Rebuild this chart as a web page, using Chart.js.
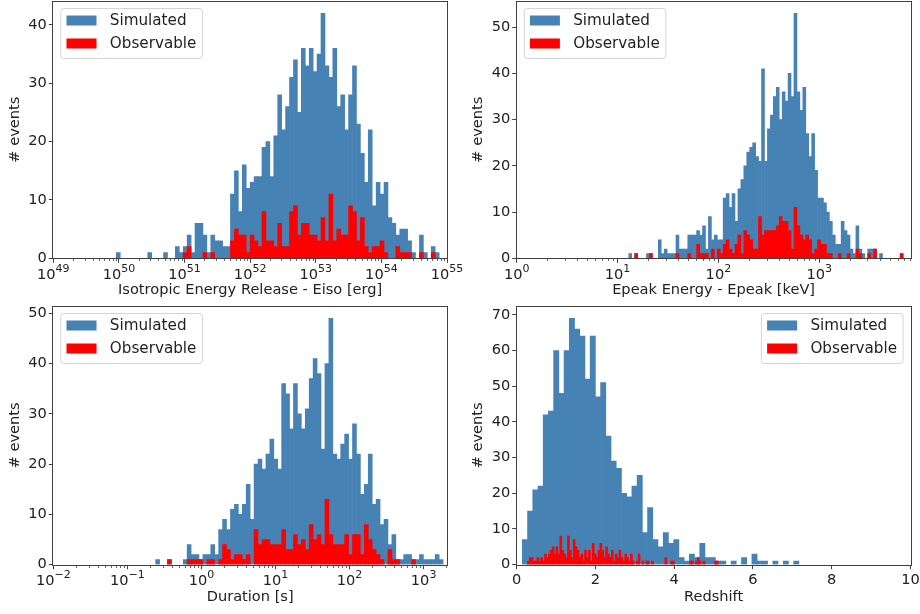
<!DOCTYPE html>
<html>
<head>
<meta charset="utf-8">
<script src="https://cdn.jsdelivr.net/npm/chart.js@4.4.0/dist/chart.umd.min.js"></script>
<style>
  html, body { margin: 0; padding: 0; background: #fff; }
  #wrap { position: relative; width: 920px; height: 614px; overflow: hidden; }
  #wrap canvas { position: absolute; left: 0; top: 0; }
</style>
</head>
<body>
<div id="wrap">
  <canvas id="eisoChart" width="920" height="614"></canvas>
  <canvas id="epeakChart" width="920" height="614"></canvas>
  <canvas id="durationChart" width="920" height="614"></canvas>
  <canvas id="redshiftChart" width="920" height="614"></canvas>
</div>
<script>
// ---- data: histogram counts ----

// Eiso: log10 bins starting at 49, 0.06 dex wide
const eisoBinStart = 49
const eisoBinWidth = 0.06
const eisoSimulated = [
  0, 0, 0, 0, 0, 0, 0, 0, 0, 0,
  0, 0, 0, 0, 0, 0, 1, 0, 0, 0,
  0, 0, 0, 0, 1, 0, 0, 0, 1, 0,
  0, 2, 1, 2, 4, 1, 6, 6, 4, 1,
  4, 3, 3, 2, 2, 11, 15, 8, 16, 12,
  13, 14, 14, 19, 20, 14, 21, 28, 22, 26,
  31, 34, 25, 36, 33, 36, 32, 35, 42, 33,
  31, 36, 26, 28, 22, 28, 33, 23, 18, 13,
  22, 9, 13, 11, 13, 7, 6, 4, 5, 5,
  3, 1, 0, 4, 1, 0, 2, 1, 0, 0
]
const eisoObservable = [
  0, 0, 0, 0, 0, 0, 0, 0, 0, 0,
  0, 0, 0, 0, 0, 0, 0, 0, 0, 0,
  0, 0, 0, 0, 0, 0, 0, 0, 0, 0,
  0, 0, 0, 1, 2, 0, 0, 0, 1, 0,
  1, 0, 0, 0, 0, 3, 5, 4, 4, 1,
  4, 3, 2, 8, 3, 3, 2, 6, 2, 2,
  8, 9, 4, 6, 6, 4, 4, 3, 7, 3,
  11, 3, 5, 4, 4, 9, 8, 3, 7, 2,
  1, 2, 2, 3, 1, 0, 0, 2, 1, 1,
  1, 0, 0, 1, 0, 0, 1, 0, 0, 0
]
const eisoTicks = [49, 50, 51, 52, 53, 54, 55]

// Epeak: log10 bins starting at 0, 0.02925 dex wide
const epeakBinStart = 0
const epeakBinWidth = 0.02925
const epeakSimulated = [
  0, 0, 0, 0, 0, 0, 0, 0, 0, 0,
  0, 0, 0, 0, 0, 0, 0, 0, 0, 0,
  0, 0, 0, 0, 0, 0, 0, 0, 0, 0,
  0, 0, 0, 0, 0, 0, 0, 0, 1, 0,
  1, 0, 0, 0, 1, 1, 0, 0, 4, 1,
  2, 1, 1, 1, 5, 2, 2, 2, 5, 5,
  5, 6, 5, 7, 2, 9, 4, 5, 4, 4,
  13, 14, 11, 14, 8, 15, 17, 20, 23, 24,
  25, 22, 21, 41, 21, 28, 31, 35, 37, 30,
  36, 34, 40, 35, 53, 36, 32, 37, 27, 22,
  27, 19, 13, 13, 12, 10, 8, 5, 3, 3,
  8, 6, 5, 2, 1, 7, 2, 1, 0, 2,
  2, 2, 0, 1, 0, 0, 0, 0, 0, 0,
  1, 0, 0
]
const epeakObservable = [
  0, 0, 0, 0, 0, 0, 0, 0, 0, 0,
  0, 0, 0, 0, 0, 0, 0, 0, 0, 0,
  0, 0, 0, 0, 0, 0, 0, 0, 0, 0,
  0, 0, 0, 0, 0, 0, 0, 0, 0, 0,
  1, 0, 0, 0, 0, 1, 0, 0, 0, 0,
  0, 0, 0, 0, 1, 0, 0, 0, 1, 0,
  0, 3, 1, 1, 1, 0, 2, 0, 2, 1,
  3, 4, 2, 1, 3, 5, 1, 6, 5, 4,
  2, 2, 9, 5, 6, 6, 6, 6, 7, 9,
  8, 8, 6, 2, 11, 7, 5, 4, 5, 4,
  1, 2, 4, 3, 3, 1, 1, 0, 0, 1,
  0, 0, 1, 0, 0, 2, 1, 0, 0, 1,
  0, 2, 0, 0, 0, 0, 0, 0, 0, 0,
  1, 0, 0
]
const epeakTicks = [0, 1, 2, 3]

// Duration: log10 bins starting at -2, 0.05316 dex wide
const durationBinStart = -2
const durationBinWidth = 0.05316
const durationSimulated = [
  0, 0, 0, 0, 0, 0, 0, 0, 0, 0,
  0, 0, 0, 0, 0, 0, 0, 0, 0, 0,
  0, 0, 0, 0, 0, 0, 1, 0, 0, 1,
  0, 0, 0, 1, 4, 2, 2, 1, 2, 2,
  4, 2, 7, 9, 7, 11, 12, 10, 12, 16,
  9, 20, 21, 19, 22, 25, 21, 19, 36, 34,
  27, 36, 30, 27, 31, 37, 41, 38, 23, 40,
  49, 22, 21, 24, 26, 21, 28, 22, 14, 16,
  22, 12, 13, 8, 9, 4, 6, 1, 1, 2,
  2, 1, 1, 2, 1, 1, 1, 2, 1, 0
]
const durationObservable = [
  0, 0, 0, 0, 0, 0, 0, 0, 0, 0,
  0, 0, 0, 0, 0, 0, 0, 0, 0, 0,
  0, 0, 0, 0, 0, 0, 0, 0, 0, 1,
  0, 0, 0, 0, 1, 1, 1, 1, 0, 1,
  1, 0, 1, 4, 3, 1, 2, 2, 1, 2,
  0, 7, 4, 5, 5, 4, 4, 4, 7, 3,
  3, 6, 4, 5, 3, 8, 5, 6, 4, 13,
  6, 4, 4, 4, 6, 2, 6, 6, 2, 8,
  5, 3, 2, 1, 0, 3, 1, 1, 0, 0,
  0, 1, 0, 0, 0, 0, 0, 0, 0, 0
]
const durationTicks = [-2, -1, 0, 1, 2, 3]

// Redshift: linear bins, simulated and observable binned separately
const redshiftSimStart = 0.143
const redshiftSimWidth = 0.1325
const redshiftSimulated = [
  7, 15, 21, 22, 42, 43, 60, 48, 60, 69,
  66, 64, 52, 64, 47, 51, 36, 29, 27, 20,
  19, 22, 25, 9, 16, 7, 5, 9, 6, 7,
  2, 1, 3, 2, 6, 2, 2, 1, 1, 0,
  1, 0, 2, 0, 3, 1, 1, 0, 1, 0,
  1, 0, 1
]
const redshiftObsStart = 0.27
const redshiftObsWidth = 0.0485
const redshiftObservable = [
  1, 2, 2, 1, 1, 2, 1, 2, 1, 3,
  2, 3, 4, 5, 3, 5, 3, 8, 4, 3,
  2, 8, 4, 2, 7, 5, 4, 2, 3, 1,
  4, 2, 4, 1, 6, 3, 2, 4, 6, 4,
  2, 5, 3, 2, 4, 1, 3, 2, 4, 2,
  1, 3, 2, 1, 3, 1, 0, 1, 3, 0,
  1, 0, 1, 1, 0, 1, 0, 0, 0, 0,
  0, 0, 2, 0, 0, 1, 1, 0, 0, 0,
  0, 0, 0, 0, 0, 1, 1, 0, 1, 2,
  1, 0, 1, 0, 0, 0, 0, 0, 1, 1
]
const redshiftTicks = [0, 2, 4, 6, 8, 10]

// ---- styling ----
const FONT = 'DejaVu Sans'
const FS = 14.6
const EXP_FS = 11
const LEGEND_FS = 15.2
const TEXT = '#222222'
const SPINE = '#404040'
const BLUE = '#4682b4'
const RED = '#ff0000'

Chart.defaults.font.family = FONT
Chart.defaults.font.size = FS
Chart.defaults.color = TEXT
Chart.defaults.animation = false

// turn counts into {x: bin centre, y: count} points
function toPoints(counts, start, width) {
  return counts.map((c, i) => ({ x: start + (i + 0.5) * width, y: c === 0 ? null : c }))
}

// axes frame on all four sides, drawn above the bars
const framePlugin = {
  id: 'frame',
  afterDatasetsDraw(chart) {
    const { ctx, chartArea: a } = chart
    ctx.save()
    ctx.strokeStyle = SPINE
    ctx.lineWidth = 1
    ctx.strokeRect(Math.round(a.left) - 0.5, Math.round(a.top) + 0.5,
      Math.round(a.right) - Math.round(a.left) + 1, Math.round(a.bottom) - Math.round(a.top))
    ctx.restore()
  }
}

// minor ticks at 2..9 x 10^k and "10^k" labels for the log axes
const logAxisPlugin = {
  id: 'logAxis',
  afterDatasetsDraw(chart, args, opts) {
    if (!opts.enabled) return
    const scale = chart.scales.x
    const { ctx } = chart
    const bottom = chart.chartArea.bottom
    const y0 = Math.round(bottom) + 0.5
    ctx.save()
    ctx.strokeStyle = SPINE
    ctx.lineWidth = 0.8
    for (let k = Math.floor(scale.min); k < scale.max; k++) {
      for (let m = 2; m <= 9; m++) {
        const v = k + Math.log10(m)
        if (v <= scale.min || v >= scale.max) continue
        const px = Math.round(scale.getPixelForValue(v)) + 0.5
        ctx.beginPath()
        ctx.moveTo(px, y0)
        ctx.lineTo(px, y0 + 2.5)
        ctx.stroke()
      }
    }
    // tick labels: base "10" with a raised exponent
    ctx.fillStyle = TEXT
    ctx.textAlign = 'left'
    ctx.textBaseline = 'alphabetic'
    scale.ticks.forEach(t => {
      const base = '10'
      const exp = String(t.value).replace('-', '\u2212')
      ctx.font = `${FS}px ${FONT}`
      const wb = ctx.measureText(base).width
      ctx.font = `${EXP_FS}px ${FONT}`
      const we = ctx.measureText(exp).width
      const x = scale.getPixelForValue(t.value) - (wb + we) / 2
      ctx.font = `${FS}px ${FONT}`
      ctx.fillText(base, x, bottom + 20.5)
      ctx.font = `${EXP_FS}px ${FONT}`
      ctx.fillText(exp, x + wb, bottom + 13.6)
    })
    ctx.restore()
  }
}

// matplotlib-like legend box inside the axes
const boxLegendPlugin = {
  id: 'boxLegend',
  afterDraw(chart, args, opts) {
    const { ctx, chartArea: a } = chart
    const items = chart.data.datasets
    ctx.save()
    ctx.font = `${LEGEND_FS}px ${FONT}`
    const textW = Math.max(...items.map(d => ctx.measureText(d.label).width))
    const w = 49 + textW + 6
    const h = 50
    const x = opts.corner === 'right' ? a.right - 7.5 - w : a.left + 7.5
    const y = a.top + 7.5
    ctx.beginPath()
    if (ctx.roundRect) ctx.roundRect(x, y, w, h, 3)
    else ctx.rect(x, y, w, h)
    ctx.fillStyle = 'rgba(255,255,255,0.8)'
    ctx.fill()
    ctx.strokeStyle = '#d4d4d4'
    ctx.lineWidth = 1
    ctx.stroke()
    items.forEach((d, i) => {
      const cy = y + 12 + i * 23
      ctx.fillStyle = d.backgroundColor
      ctx.fillRect(x + 5.7, cy - 5, 30, 10)
      ctx.fillStyle = TEXT
      ctx.textBaseline = 'middle'
      ctx.textAlign = 'left'
      ctx.fillText(d.label, x + 49, cy + 1)
    })
    ctx.restore()
  }
}

function makeHistogram(canvasId, p) {
  const canvas = document.getElementById(canvasId)
  const lh = FS * 1.2
  const padLeft = p.yTitleX - lh / 2
  const padBottom = 614 - (p.xTitleY + lh / 2)
  const yTicks = []
  for (let v = 0; v <= p.yMax; v += 10) yTicks.push({ value: v })

  const barStyle = { barPercentage: 1, categoryPercentage: 1, grouped: false, borderWidth: 0 }

  const config = {
    type: 'bar',
    data: {
      datasets: [
        Object.assign({ label: 'Simulated', data: p.sim, backgroundColor: BLUE, xAxisID: 'x', order: 1 }, barStyle),
        Object.assign({ label: 'Observable', data: p.obs, backgroundColor: RED, xAxisID: 'xr', order: 0 }, barStyle)
      ]
    },
    options: {
      responsive: false,
      events: [],
      layout: {
        padding: { left: padLeft, top: p.area.top, right: 920 - p.area.right, bottom: padBottom }
      },
      plugins: {
        legend: { display: false },
        tooltip: { enabled: false },
        logAxis: { enabled: p.log },
        boxLegend: { corner: p.legendCorner }
      },
      scales: {
        x: {
          type: 'linear',
          position: 'bottom',
          min: p.xMin,
          max: p.xMax,
          offset: false,
          grid: { display: true, drawOnChartArea: false, drawTicks: true, tickLength: 4.5, tickColor: SPINE, offset: false },
          border: { display: false },
          ticks: {
            padding: 2,
            maxRotation: 0,
            autoSkip: false,
            color: TEXT,
            // log axes get their "10^k" labels from logAxisPlugin
            callback: v => p.log ? '' : String(v)
          },
          title: { display: true, text: p.xTitle, padding: 0, color: TEXT },
          afterBuildTicks: s => { s.ticks = p.ticks.map(v => ({ value: v })) },
          afterFit: s => { s.height = p.xTitleY + lh / 2 - p.area.bottom; s.paddingLeft = 0; s.paddingRight = 0 }
        },
        xr: {
          type: 'linear',
          display: false,
          min: p.xMin,
          max: p.xMax,
          offset: false
        },
        y: {
          type: 'linear',
          min: 0,
          max: p.yMax,
          grid: { display: true, drawOnChartArea: false, drawTicks: true, tickLength: 4.5, tickColor: SPINE },
          border: { display: false },
          ticks: { padding: 2, color: TEXT },
          title: { display: true, text: '# events', padding: 0, color: TEXT },
          afterBuildTicks: s => { s.ticks = yTicks },
          afterFit: s => { s.width = p.area.left - padLeft; s.paddingTop = 0; s.paddingBottom = 0 }
        }
      }
    },
    plugins: [framePlugin, logAxisPlugin, boxLegendPlugin]
  }

  return new Chart(canvas, config)
}

makeHistogram('eisoChart', {
  area: { left: 53.3, right: 447, top: 1, bottom: 258.3 },
  yTitleX: 15, xTitleY: 290,
  log: true, xMin: 49, xMax: 55, yMax: 44.1, ticks: eisoTicks,
  xTitle: 'Isotropic Energy Release - Eiso [erg]',
  legendCorner: 'left',
  sim: toPoints(eisoSimulated, eisoBinStart, eisoBinWidth),
  obs: toPoints(eisoObservable, eisoBinStart, eisoBinWidth)
})

makeHistogram('epeakChart', {
  area: { left: 516.7, right: 910.5, top: 1, bottom: 258.3 },
  yTitleX: 478, xTitleY: 290,
  log: true, xMin: 0, xMax: 3.905, yMax: 55.65, ticks: epeakTicks,
  xTitle: 'Epeak Energy - Epeak [keV]',
  legendCorner: 'left',
  sim: toPoints(epeakSimulated, epeakBinStart, epeakBinWidth),
  obs: toPoints(epeakObservable, epeakBinStart, epeakBinWidth)
})

makeHistogram('durationChart', {
  area: { left: 53.3, right: 447, top: 306, bottom: 564.7 },
  yTitleX: 15, xTitleY: 597,
  log: true, xMin: -2, xMax: 3.316, yMax: 51.45, ticks: durationTicks,
  xTitle: 'Duration [s]',
  legendCorner: 'left',
  sim: toPoints(durationSimulated, durationBinStart, durationBinWidth),
  obs: toPoints(durationObservable, durationBinStart, durationBinWidth)
})

makeHistogram('redshiftChart', {
  area: { left: 516.7, right: 910.5, top: 306, bottom: 564.7 },
  yTitleX: 478, xTitleY: 597,
  log: false, xMin: 0, xMax: 10, yMax: 72.45, ticks: redshiftTicks,
  xTitle: 'Redshift',
  legendCorner: 'right',
  sim: toPoints(redshiftSimulated, redshiftSimStart, redshiftSimWidth),
  obs: toPoints(redshiftObservable, redshiftObsStart, redshiftObsWidth)
})
</script>
</body>
</html>
